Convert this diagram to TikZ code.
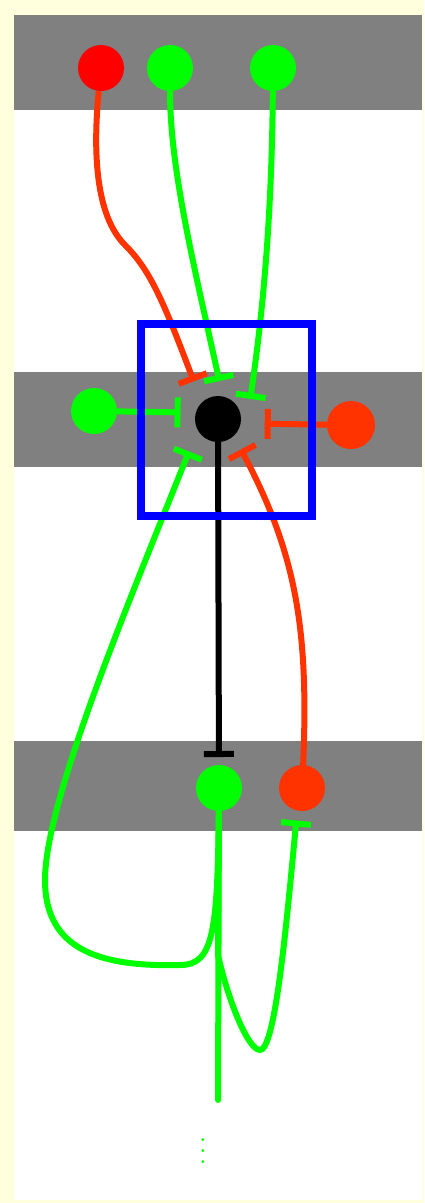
\documentclass[tikz,border=0pt]{standalone}
\usepackage{tikz}
\usetikzlibrary{arrows.meta}

\definecolor{paper}{RGB}{255,255,221}
\definecolor{band}{RGB}{128,128,128}
\definecolor{onGreen}{RGB}{0,255,0}
\definecolor{offRed}{RGB}{255,51,0}

\begin{document}
\begin{tikzpicture}[x=1pt, y=-1pt,
  spot/.style={circle, minimum size=46pt, inner sep=0pt},
  act/.style={line width=6pt, onGreen},
  inh/.style={line width=6pt, offRed},
  tee/.style={-{Bar[width=30pt]}}]

  \fill[paper] (0,0) rectangle (424,1203);
  \fill[white] (14,15) rectangle (422,1200);
  \foreach \y/\h in {15/110, 372/467, 741/831} {
    \fill[band] (14,\y) rectangle (422,\h);
  }

  \node[spot, fill=red] (topRed) at (101,68) {};
  \node[spot, fill=onGreen] (topGreenA) at (170,68) {};
  \node[spot, fill=onGreen] (topGreenB) at (273,68) {};
  \node[spot, fill=onGreen] (midGreen) at (94,411) {};
  \node[spot, fill=black, outer sep=15pt] (hub) at (218,419) {};
  \node[spot, fill=offRed, minimum size=48pt] (midRed) at (351,425) {};
  \node[spot, fill=onGreen, outer sep=8pt] (lowGreen) at (219,788) {};
  \node[spot, fill=offRed, outer sep=10pt] (lowRed) at (302,788) {};
  \coordinate (tail) at (218,1100);
  \node[text=onGreen, scale=2.7, inner sep=0pt] (more) at (203,1143) {$\vdots$};

  \draw[inh, tee, shorten >=7pt] (topRed) .. controls (93,150) and (95,215) .. (125,245)
    .. controls (150,270) and (163,300) .. (hub.125);
  \draw[act, tee] (topGreenA) .. controls (170,170) and (195,270) .. (hub.88);
  \draw[act, tee] (topGreenB) .. controls (272,200) and (265,300) .. (hub.32);
  \draw[act, tee] (midGreen) -- (hub.170);
  \draw[inh, tee, shorten >=9pt] (midRed) -- (hub.-7);
  \draw[line width=6pt, tee] (hub.center) -- (lowGreen);
  \draw[inh, tee] (lowRed.center) .. controls (310,640) and (300,560) .. (hub.307);
  \draw[act, tee, shorten >=6pt] (lowGreen.center) .. controls (218,930) and (215,965) .. (180,965)
    .. controls (100,967) and (45,950) .. (45,880)
    .. controls (45,800) and (130,600) .. (hub.225);
  \draw[act, tee] (lowGreen.center) -- (218,955) .. controls (228,1000) and (248,1050) .. (260,1050)
    .. controls (275,1050) and (286,930) .. (lowRed.260);
  \draw[act, line cap=round] (lowGreen.center) -- (tail);

  \draw[blue, line width=7.5pt] (141,324) rectangle (312,516);

\end{tikzpicture}
\end{document}
